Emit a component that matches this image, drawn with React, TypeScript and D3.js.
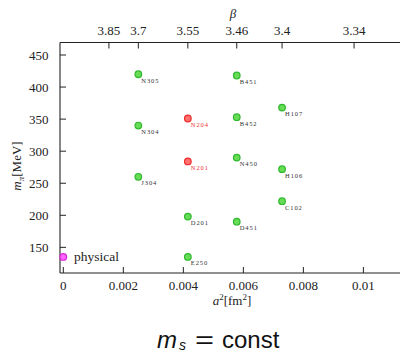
import React from "react";
import * as d3 from "d3";

const ensembles = ["N305", "N304", "J304", "N204", "N201", "D201", "E250", "B451", "B452", "N450", "D451", "H107", "H106", "C102"];
const a2Values = [0.0025, 0.0025, 0.0025, 0.00415, 0.00415, 0.00415, 0.00415, 0.00578, 0.00578, 0.00578, 0.00578, 0.00729, 0.00729, 0.00729];
const mpiValues = [420, 340, 260, 351, 284, 198, 135, 418, 353, 290, 190, 368, 272, 222];
const redEnsembles = ["N204", "N201"];
const physicalA2 = [0];
const physicalMpi = [135];
const physicalLabel = ["physical"];

const xTicks = [0, 0.002, 0.004, 0.006, 0.008, 0.01];
const xTickLabels = ["0", "0.002", "0.004", "0.006", "0.008", "0.01"];
const yTicks = [150, 200, 250, 300, 350, 400, 450];
const betaLabels = ["3.85", "3.7", "3.55", "3.46", "3.4", "3.34"];
const betaA2 = [0.00152, 0.0025, 0.00415, 0.00578, 0.00729, 0.00969];

const W = 402, H = 352;
const L = 60, R = 400, T = 42.5, B = 273;

export default function App() {
  const x = d3.scaleLinear().domain([-0.00011, 0.01122]).range([L, R]);
  const y = d3.scaleLinear().domain([110, 469.5]).range([B, T]);
  const serif = "'Liberation Serif', 'DejaVu Serif', serif";
  const sans = "'Liberation Sans', Arial, sans-serif";
  const ink = "#222";
  return (
    <svg width={W} height={H} style={{ position: "absolute", left: 0, top: 0, background: "#fff" }} fontFamily={serif}>
      <line x1={L} x2={R} y1={T} y2={T} stroke={ink} strokeWidth={1.1} />
      <line x1={L} x2={R} y1={B} y2={B} stroke={ink} strokeWidth={1.1} />
      <line x1={L} x2={L} y1={T} y2={B} stroke={ink} strokeWidth={1.1} />
      {xTicks.map((t, i) => (
        <g key={"xt" + i}>
          <line x1={x(t)} x2={x(t)} y1={B} y2={B - 6} stroke={ink} strokeWidth={1} />
          <text x={x(t)} y={290} textAnchor="middle" fontSize={13} fill={ink}>{xTickLabels[i]}</text>
        </g>
      ))}
      {yTicks.map((t, i) => (
        <g key={"yt" + i}>
          <line x1={L} x2={L + 6} y1={y(t)} y2={y(t)} stroke={ink} strokeWidth={1} />
          <text x={48.5} y={y(t) + 4.5} textAnchor="end" fontSize={13} fill={ink}>{t}</text>
        </g>
      ))}
      {betaA2.map((t, i) => (
        <g key={"bt" + i}>
          <line x1={x(t)} x2={x(t)} y1={T} y2={T + 6} stroke={ink} strokeWidth={1} />
          <text x={x(t)} y={35} textAnchor="middle" fontSize={13} fill={ink}>{betaLabels[i]}</text>
        </g>
      ))}
      <text x={233} y={18} textAnchor="middle" fontSize={13} fontStyle="italic" fill={ink}>β</text>
      <text x={232} y={305} textAnchor="middle" fontSize={13} fill={ink}>
        <tspan fontStyle="italic">a</tspan><tspan dy={-5} fontSize={9}>2</tspan><tspan dy={5}>[fm</tspan><tspan dy={-5} fontSize={9}>2</tspan><tspan dy={5}>]</tspan>
      </text>
      <text transform={`translate(21, 166) rotate(-90)`} textAnchor="middle" fontSize={13} fill={ink}>
        <tspan fontStyle="italic">m</tspan><tspan dy={3} fontSize={9} fontStyle="italic">π</tspan><tspan dy={-3}>[MeV]</tspan>
      </text>
      {ensembles.map((name, i) => {
        const red = redEnsembles.includes(name);
        const cx = x(a2Values[i]);
        const cy = y(mpiValues[i]);
        return (
          <g key={name}>
            <circle cx={cx} cy={cy} r={3.3} fill={red ? "#ff7070" : "#66dd55"} stroke={red ? "#ee2a2a" : "#2fb82f"} strokeWidth={1.2} />
            <text x={cx + 3} y={cy + 8.5} fontSize={6.5} letterSpacing={0.9} fill={red ? "#ee3333" : "#333"}>{name}</text>
          </g>
        );
      })}
      {physicalA2.map((v, i) => (
        <g key={"ph" + i}>
          <circle cx={x(v)} cy={y(physicalMpi[i])} r={3.3} fill="#ff66ff" stroke="#dd22dd" strokeWidth={1.2} />
          <text x={74} y={y(physicalMpi[i]) + 4} fontSize={13.5} fill={ink}>{physicalLabel[i]}</text>
        </g>
      ))}
      <g fontFamily={sans} fill="#111">
        <text x={157} y={348} fontSize={24} fontStyle="italic">m</text>
        <text x={179} y={350} fontSize={14} fontStyle="italic">s</text>
        <text x={195} y={348} fontSize={24} textLength={19} lengthAdjust="spacingAndGlyphs">=</text>
        <text x={222} y={348} fontSize={24}>const</text>
      </g>
    </svg>
  );
}
